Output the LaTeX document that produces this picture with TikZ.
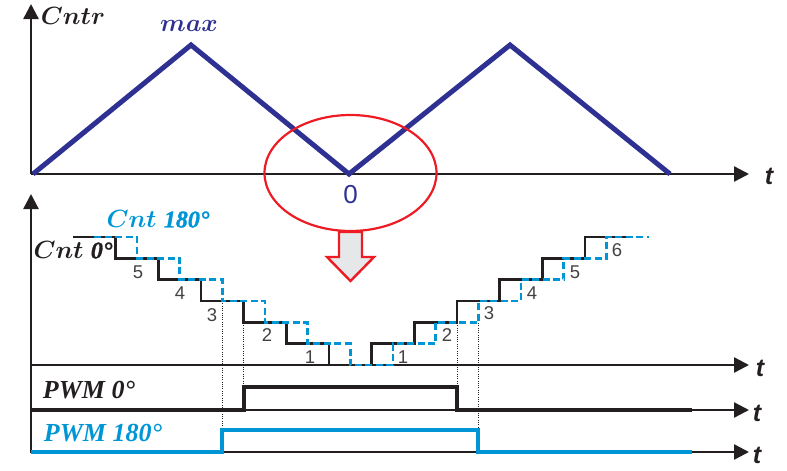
\documentclass[tikz,border=0pt]{standalone}
\usepackage{fontspec}
\usetikzlibrary{arrows.meta}
\newfontfamily\sansf{Liberation Sans}
\newfontfamily\tserif{Liberation Serif}
\newfontfamily\tserifheavy[FakeBold=1.2]{Liberation Serif}
\definecolor{dkblue}{HTML}{2E3192}
\definecolor{cyanb}{HTML}{0096D6}
\definecolor{redc}{HTML}{ED1C24}
\definecolor{inkb}{HTML}{231F20}
\definecolor{greyfill}{HTML}{E6E7E8}
\newcommand\numbi[1]{{\tserifheavy\bfseries\itshape #1}}
\tikzset{
  axis/.style={line width=2.4pt, draw=inkb, -{Triangle[length=15pt,width=15pt]}},
  tri/.style={line width=5pt, draw=dkblue},
  stair0/.style={line width=2.9pt, draw=inkb},
  stair180/.style={line width=2.9pt, draw=cyanb, dash pattern=on 7pt off 3.5pt},
  pwm0/.style={line width=3.8pt, draw=inkb},
  pwm180/.style={line width=3.8pt, draw=cyanb},
  guide/.style={line width=0.8pt, draw=inkb, dash pattern=on 0.9pt off 1.4pt},
  tlab/.style={font=\sansf\bfseries\itshape\fontsize{25}{25}\selectfont, text=inkb, inner sep=0pt},
  dig/.style={font=\sansf\fontsize{18.5}{18.5}\selectfont, text=inkb!85, inner sep=0pt},
  biglab/.style={font=\fontsize{24}{24}\selectfont\boldmath, inner sep=0pt},
  pwmlab/.style={font=\tserif\bfseries\itshape\fontsize{26}{26}\selectfont, inner sep=0pt},
}
\begin{document}
\begin{tikzpicture}[x=1pt,y=-1pt]
\useasboundingbox (0,0) rectangle (787,471);
% ---------- top plot ----------
\coordinate (o1) at (31,174);
\coordinate (ytop1) at (31,4);
\coordinate (xend1) at (749,174);
\draw[axis] (o1) -- (ytop1);
\draw[axis] (o1) -- (xend1);
\draw[tri] (33,174) -- (191,45) -- (349,174) -- (510,45) -- (670,174);
\node[biglab, text=inkb] (cntr) at (73,16) {$Cntr$};
\node[biglab, text=dkblue, font=\fontsize{25}{25}\selectfont\boldmath] (max) at (189,26) {$max$};
\node[tlab] (t1) at (769,176) {t};
\node[font=\sansf\fontsize{26}{26}\selectfont, text=dkblue, inner sep=0pt] (zero) at (350.5,195) {0};
% red ellipse and arrow
\draw[redc, line width=2.2pt] (350.5,173) ellipse [x radius=86, y radius=58];
\draw[redc, line width=2.4pt, fill=greyfill, line join=miter]
  (339,232) -- (362,232) -- (362,257) -- (374,257) -- (350.5,281) -- (327,257) -- (339,257) -- cycle;
% ---------- bottom plot ----------
\coordinate (o2) at (31,453);
\coordinate (ytop2) at (31,194);
\draw[axis] (o2) -- (ytop2);
\coordinate (c0) at (31,365);
\coordinate (c1) at (749,365);
\draw[axis] (c0) -- (c1);
\coordinate (p0a) at (31,410);
\coordinate (p0b) at (749,410);
\draw[axis] (p0a) -- (p0b);
\coordinate (p1a) at (31,452);
\coordinate (p1b) at (749,452);
\draw[axis] (p1a) -- (p1b);
% dotted guides
\draw[guide] (222.3,301) -- (222.3,430);
\draw[guide] (243.7,323) -- (243.7,387);
\draw[guide] (457,323) -- (457,387);
\draw[guide] (478.3,323) -- (478.3,430);
% staircase Cnt 0
\draw[stair0] (73,237) -- (115.7,237) -- (115.7,258.3) -- (158.3,258.3) -- (158.3,279.7) -- (201,279.7) -- (201,301) -- (243.7,301) -- (243.7,322.3) -- (286.3,322.3) -- (286.3,343.7) -- (329,343.7) -- (329,365) -- (371.7,365) -- (371.7,343.7) -- (414.3,343.7) -- (414.3,322.3) -- (457,322.3) -- (457,301) -- (499.7,301) -- (499.7,279.7) -- (542.3,279.7) -- (542.3,258.3) -- (585,258.3) -- (585,237) -- (627.7,237);
% staircase Cnt 180
\draw[stair180] (94.3,237) -- (137,237) -- (137,258.3) -- (179.7,258.3) -- (179.7,279.7) -- (222.3,279.7) -- (222.3,301) -- (265,301) -- (265,322.3) -- (307.7,322.3) -- (307.7,343.7) -- (350.3,343.7) -- (350.3,365) -- (393,365) -- (393,343.7) -- (435.7,343.7) -- (435.7,322.3) -- (478.3,322.3) -- (478.3,301) -- (521,301) -- (521,279.7) -- (563.7,279.7) -- (563.7,258.3) -- (606.3,258.3) -- (606.3,237) -- (649,237);
% digits
\node[dig] (d5a) at (138,272) {5};
\node[dig] (d4a) at (180,293) {4};
\node[dig] (d3a) at (212,315) {3};
\node[dig] (d2a) at (267,335) {2};
\node[dig] (d1a) at (310,357) {1};
\node[dig] (d1b) at (403,357) {1};
\node[dig] (d2b) at (447,335) {2};
\node[dig] (d3b) at (489,313) {3};
\node[dig] (d4b) at (532,293) {4};
\node[dig] (d5b) at (575,272) {5};
\node[dig] (d6b) at (617,250) {6};
\node[biglab, text=inkb] (cnt0) at (73,250) {$Cnt$\ \numbi{0°}};
\node[biglab, text=cyanb] (cnt180) at (158,219) {$Cnt$\ \numbi{180°}};
\node[tlab] (t2) at (760,368) {t};
% PWM signals
\draw[pwm0] (31,410) -- (243.7,410) -- (243.7,387) -- (457,387) -- (457,410) -- (692,410);
\draw[pwm180] (31,452) -- (222.3,452) -- (222.3,430) -- (478.3,430) -- (478.3,452) -- (692,452);
\node[pwmlab, text=inkb] (pwm0l) at (89,390) {PWM 0°};
\node[pwmlab, text=cyanb] (pwm180l) at (103,433) {PWM 180°};
\node[tlab] (t3) at (757,413) {t};
\node[tlab] (t4) at (757,455) {t};
\end{tikzpicture}
\end{document}
